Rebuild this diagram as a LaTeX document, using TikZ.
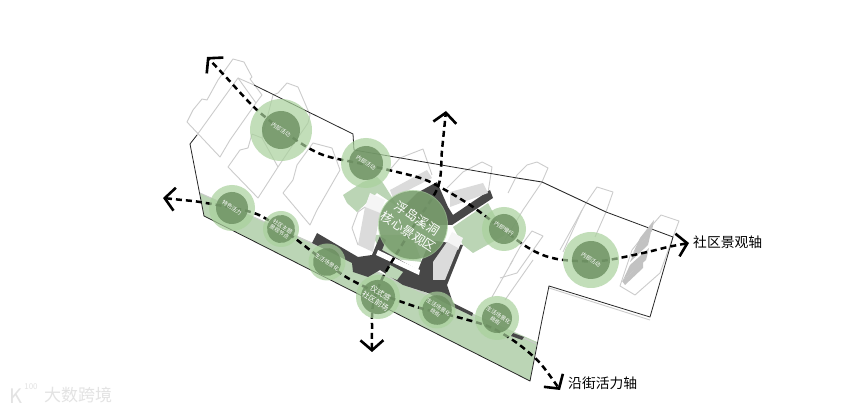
\documentclass[tikz,border=0pt]{standalone}
\usepackage{fontspec}
\setmainfont{Noto Sans CJK SC}
\usetikzlibrary{arrows.meta}

\tikzset{
  barb/.tip={Straight Barb[length=10pt,width=23pt,line width=2.6pt]},
  outline/.style={draw=black!20, line width=0.9pt, line join=round},
  boundary/.style={draw=black!85, line width=0.8pt, line join=round},
  massdark/.style={fill=black!72, draw=none},
  wallgrey/.style={fill=black!14, draw=none},
  roofwhite/.style={fill=black!4, draw=none},
  hatchgrey/.style={fill=black!24, draw=none},
  lawn/.style={fill=lawngreen, draw=none},
  axisline/.style={draw=black, line width=2.5pt, dash pattern=on 6pt off 4pt},
  halo/.style={circle, minimum size=#1pt, inner sep=0pt, fill=halogreen, fill opacity=.7},
  core/.style={circle, minimum size=#1pt, inner sep=0pt, fill=coregreen, fill opacity=.8,
    text=white, text opacity=1, font=\fontsize{5.5}{6}\selectfont, align=center, rotate=-33},
  axislabel/.style={font=\fontsize{13.8}{15}\selectfont, text=black, anchor=west, inner sep=0pt},
  marktext/.style={text=black!11, inner sep=0pt},
}
\definecolor{lawngreen}{HTML}{BBD5B5}
\definecolor{halogreen}{HTML}{A9D19C}
\definecolor{coregreen}{HTML}{6B8F60}

\begin{document}
\begin{tikzpicture}[x=1pt,y=-1pt]

\path[use as bounding box, fill=white] (0,0) rectangle (865,411);

% Street strip and green plazas
\path[lawn] (200,193) -- (537,342) -- (530,381) -- (204,216) -- cycle;
\path[lawn] (343,195) -- (363,182) -- (377,177) -- (383,183) -- (398,207) -- (383,197)
  -- (377,193) -- (357,212) -- (347,203) -- cycle;
\path[lawn] (453,227) -- (488,203) -- (505,235) -- (473,253) -- (463,245) -- cycle;
\path[lawn] (372,235) -- (412,235) -- (422,262) -- (385,258) -- cycle;

% Building outlines
\draw[outline] (233,59) -- (244,62) -- (252,77) -- (250,79) -- (262,95) -- (256,103)
  -- (238,78) -- (197,135) -- (238,78) -- (256,103) -- (230,140) -- (220,157) -- (187,122)
  -- (193,110) -- (202,99) -- (207,100) -- (218,80) -- cycle;
\draw[outline] (228,167) -- (240,150) -- (248,148) -- (252,134) -- (262,138) -- (278,167)
  -- (258,198) -- cycle;
\draw[outline] (262,138) -- (273,95) -- (278,93) -- (287,83) -- (298,87) -- (310,115)
  -- (308,123) -- (288,152) -- (278,167);
\draw[outline] (283,193) -- (293,180) -- (297,165) -- (313,143) -- (332,148) -- (340,170)
  -- (317,210) -- (310,225) -- cycle;
\draw[outline] (388,172) -- (400,158) -- (423,149) -- (432,175);
\draw[outline] (447,188) -- (463,172) -- (482,162) -- (492,167) -- (488,193);
\draw[outline] (508,193) -- (517,175) -- (527,165) -- (537,162) -- (548,168) -- (542,182)
  -- (523,210) -- (505,240);
\draw[outline] (500,278) -- (517,273) -- (543,236) -- (532,231) -- (520,247) -- (510,265);
\draw[outline] (560,250) -- (586,203) -- (597,187) -- (613,192) -- (606,212) -- (595,237);
\draw[outline] (563,252) -- (582,210);
\draw[outline] (661,215) -- (679,221) -- (673,237) -- (660,273) -- (635,295) -- (620,286)
  -- (632,250) -- (648,230) -- cycle;
\draw[outline] (492,297) -- (513,260);
\draw[outline] (505,300) -- (533,260);
\draw[outline] (517,178) -- (542,182) -- (606,212);
\draw[outline] (254,85) -- (238,78);
\draw[outline] (549,288) -- (650,320);
\draw[outline] (200,193) -- (537,344);

% Site boundary
\draw[boundary] (197,135) -- (190,144) -- (204,216) -- (530,381) -- (542,320) -- (549,286)
  -- (650,317) -- (673,237) -- (606,212) -- (542,182);
\draw[boundary] (254,85) -- (353,134) -- (354,150) -- (517,178) -- (542,182);

% Hatched facades
\path[hatchgrey] (654,220) -- (640,238) -- (633,253) -- (652,231) -- cycle;
\path[hatchgrey] (651,232) -- (635,250) -- (630,262) -- (648,245) -- cycle;
\path[hatchgrey] (649,248) -- (630,265) -- (623,280) -- (646,260) -- cycle;
\path[hatchgrey] (643,262) -- (622,281) -- (625,285) -- (643,268) -- cycle;

% Dark podium
\path[massdark] (417,193) -- (437,182) -- (448,207) -- (453,215) -- (490,190) -- (493,198)
  -- (452,225) -- (425,225) -- (400,210) -- cycle;
\path[massdark] (317,233) -- (358,257) -- (372,255) -- (380,236) -- (386,240) -- (382,250)
  -- (418,270) -- (430,240) -- (463,245) -- (447,285) -- (453,303) -- (473,313) -- (472,316)
  -- (443,302) -- (428,293) -- (403,285) -- (380,270) -- (368,277) -- (353,272) -- (352,263)
  -- (312,243) -- cycle;
\path[massdark] (513,333) -- (524,337) -- (522,340) -- (511,336) -- cycle;
\path[fill=white] (378,250) -- (420,270) -- (419,275) -- (376,255) -- cycle;
\path[lawn] (390,265) -- (403,272) -- (397,280) -- (385,275) -- cycle;

% Light tower blocks
\path[wallgrey] (390,190) -- (427,170) -- (432,178) -- (393,198) -- cycle;
\path[wallgrey] (450,192) -- (483,183) -- (488,193) -- (450,207) -- cycle;
\path[roofwhite] (370,193) -- (385,200) -- (380,213) -- (365,207) -- cycle;
\path[wallgrey] (365,207) -- (380,213) -- (373,252) -- (358,245) -- cycle;
\draw[outline] (365,207) -- (358,212) -- (352,228) -- (358,245);
\path[roofwhite] (452,232) -- (463,238) -- (458,250) -- (447,242) -- cycle;
\path[wallgrey] (447,242) -- (458,248) -- (445,280) -- (433,280) -- (433,262) -- cycle;

% Axis ends
\coordinate (endNW) at (207,57);
\coordinate (endE) at (689,243);
\coordinate (endW) at (163,198);
\coordinate (endSE) at (560,390);
\coordinate (endN) at (446,111);
\coordinate (endS) at (372,352);

% Axes
\draw[axisline, barb-barb] plot[smooth] coordinates {(endE) (668,247) (643,253) (600,261)
  (557,259) (527,247) (473,207) (438,186) (417,177) (367,165) (323,155) (293,138) (257,110)
  (225,76) (endNW)};
\draw[axisline, barb-barb] plot[smooth] coordinates {(endW) (182,200) (200,202) (243,210)
  (263,217) (293,237) (310,250) (340,273) (357,283) (383,295) (420,308) (457,317) (490,327)
  (517,343) (540,363) (endSE)};
\draw[axisline, barb-barb] plot[smooth] coordinates {(endS) (372,330) (373,305) (383,277)
  (413,227) (438,187) (442,150) (endN)};

% Spots along the axes
\node[halo=62] (haloA) at (281,130) {};
\node[core=38] (coreA) at (281,130) {内部活动};
\node[halo=50] (haloB) at (366,163) {};
\node[core=34] (coreB) at (366,163) {内部活动};
\node[halo=46] (haloC) at (232,208) {};
\node[core=32] (coreC) at (232,208) {特色活力};
\node[halo=36] (haloD) at (281,229) {};
\node[core=28] (coreD) at (281,229) {社区主题\\景观节点};
\node[halo=37] (haloE) at (327,262) {};
\node[core=27] (coreE) at (327,262) {生活场景化};
\node[halo=44] (haloF) at (378,297) {};
\node[core=32, font=\fontsize{7.5}{9.5}\selectfont] (coreF) at (378,297) {仪式感\\社区前场};
\node[halo=37] (haloG) at (437,310) {};
\node[core=28] (coreG) at (437,310) {生活场景化\\商街};
\node[halo=44] (haloH) at (497,318) {};
\node[core=30] (coreH) at (497,318) {生活场景化\\商街};
\node[halo=44] (haloJ) at (504,229) {};
\node[core=30] (coreJ) at (504,229) {内部慢行};
\node[halo=56] (haloK) at (591,260) {};
\node[core=38] (coreK) at (591,260) {内部活动};

% Core landscape
\node[halo=70] (haloM) at (413,225) {};
\node[core=52, fill opacity=.68, font=\fontsize{12.5}{16}\selectfont] (coreM) at (413,225) {浮岛溪洞\\核心景观区};

% Axis names
\node[axislabel] (labelE) at (693,242) {社区景观轴};
\node[axislabel] (labelSE) at (568,383) {沿街活力轴};

% Watermark
\node[marktext, font=\fontsize{17}{18}\selectfont] (markname) at (78,395) {大数跨境};
\node[marktext, font=\fontsize{8}{8}\selectfont] (markhundred) at (31,387) {100};
\node[marktext, font=\fontsize{20}{20}\selectfont] (markk) at (16,396) {K};

\end{tikzpicture}
\end{document}
